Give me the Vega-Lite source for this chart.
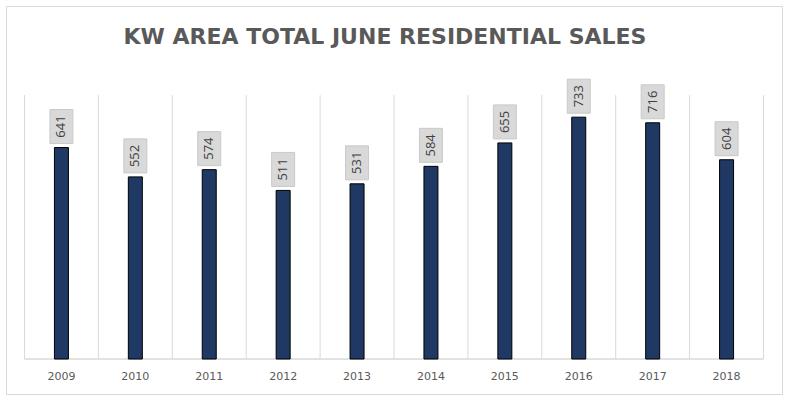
{
  "$schema": "https://vega.github.io/schema/vega-lite/v6.json",
  "autosize": "none",
  "width": 776,
  "height": 388,
  "padding": {"left": 6, "top": 6, "right": 8, "bottom": 10},
  "background": "white",
  "config": {
    "view": {"stroke": "#d9d9d9", "strokeWidth": 1},
    "font": "Open Sans"
  },
  "title": {
    "text": "KW AREA TOTAL JUNE RESIDENTIAL SALES",
    "font": "DejaVu Sans",
    "fontSize": 22,
    "fontWeight": "bold",
    "color": "#595959",
    "anchor": "middle",
    "baseline": "middle",
    "offset": -53,
    "dx": -9
  },
  "data": {
    "values": [
      {"year": "2009", "sales": 641},
      {"year": "2010", "sales": 552},
      {"year": "2011", "sales": 574},
      {"year": "2012", "sales": 511},
      {"year": "2013", "sales": 531},
      {"year": "2014", "sales": 584},
      {"year": "2015", "sales": 655},
      {"year": "2016", "sales": 733},
      {"year": "2017", "sales": 716},
      {"year": "2018", "sales": 604}
    ]
  },
  "encoding": {
    "x": {
      "field": "year",
      "type": "ordinal",
      "title": null,
      "scale": {"paddingInner": 0, "paddingOuter": 0.25},
      "axis": null
    }
  },
  "layer": [
    {
      "mark": {"type": "rule", "color": "#d9d9d9", "strokeWidth": 1},
      "encoding": {
        "x": {"field": "year", "type": "ordinal", "bandPosition": 0},
        "y": {"datum": 0, "type": "quantitative", "scale": {"domain": [-106, 1070], "nice": false, "zero": false}, "axis": null},
        "y2": {"datum": 800}
      }
    },
    {
      "transform": [{"filter": "datum.year == '2018'"}],
      "mark": {"type": "rule", "color": "#d9d9d9", "strokeWidth": 1},
      "encoding": {
        "x": {"field": "year", "type": "ordinal", "bandPosition": 1},
        "y": {"datum": 0, "type": "quantitative"},
        "y2": {"datum": 800}
      }
    },
    {
      "mark": {"type": "rect", "fill": null, "stroke": "#d9d9d9", "strokeWidth": 1},
      "encoding": {
        "y": {"datum": 0, "type": "quantitative"},
        "y2": {"datum": 0}
      }
    },
    {
      "mark": {"type": "bar", "width": 14, "color": "#1f3864", "stroke": "#000000", "strokeWidth": 1},
      "encoding": {
        "y": {"field": "sales", "type": "quantitative"}
      }
    },
    {
      "mark": {
        "type": "text",
        "align": "center",
        "baseline": "middle",
        "font": "DejaVu Sans",
        "fontSize": 11,
        "color": "#595959"
      },
      "encoding": {
        "y": {"datum": -55, "type": "quantitative"},
        "text": {"field": "year", "type": "nominal"}
      }
    },
    {
      "mark": {
        "type": "point",
        "shape": "M-0.676,-1H0.676V1H-0.676Z",
        "size": 1156,
        "filled": true,
        "fill": "#d9d9d9",
        "stroke": "#c9c9c9",
        "strokeWidth": 1,
        "opacity": 1,
        "yOffset": -21
      },
      "encoding": {
        "y": {"field": "sales", "type": "quantitative"}
      }
    },
    {
      "mark": {
        "type": "text",
        "angle": 270,
        "align": "center",
        "baseline": "middle",
        "font": "Open Sans",
        "fontSize": 13,
        "color": "#404040",
        "yOffset": -21
      },
      "encoding": {
        "y": {"field": "sales", "type": "quantitative"},
        "text": {"field": "sales", "type": "quantitative"}
      }
    }
  ]
}
